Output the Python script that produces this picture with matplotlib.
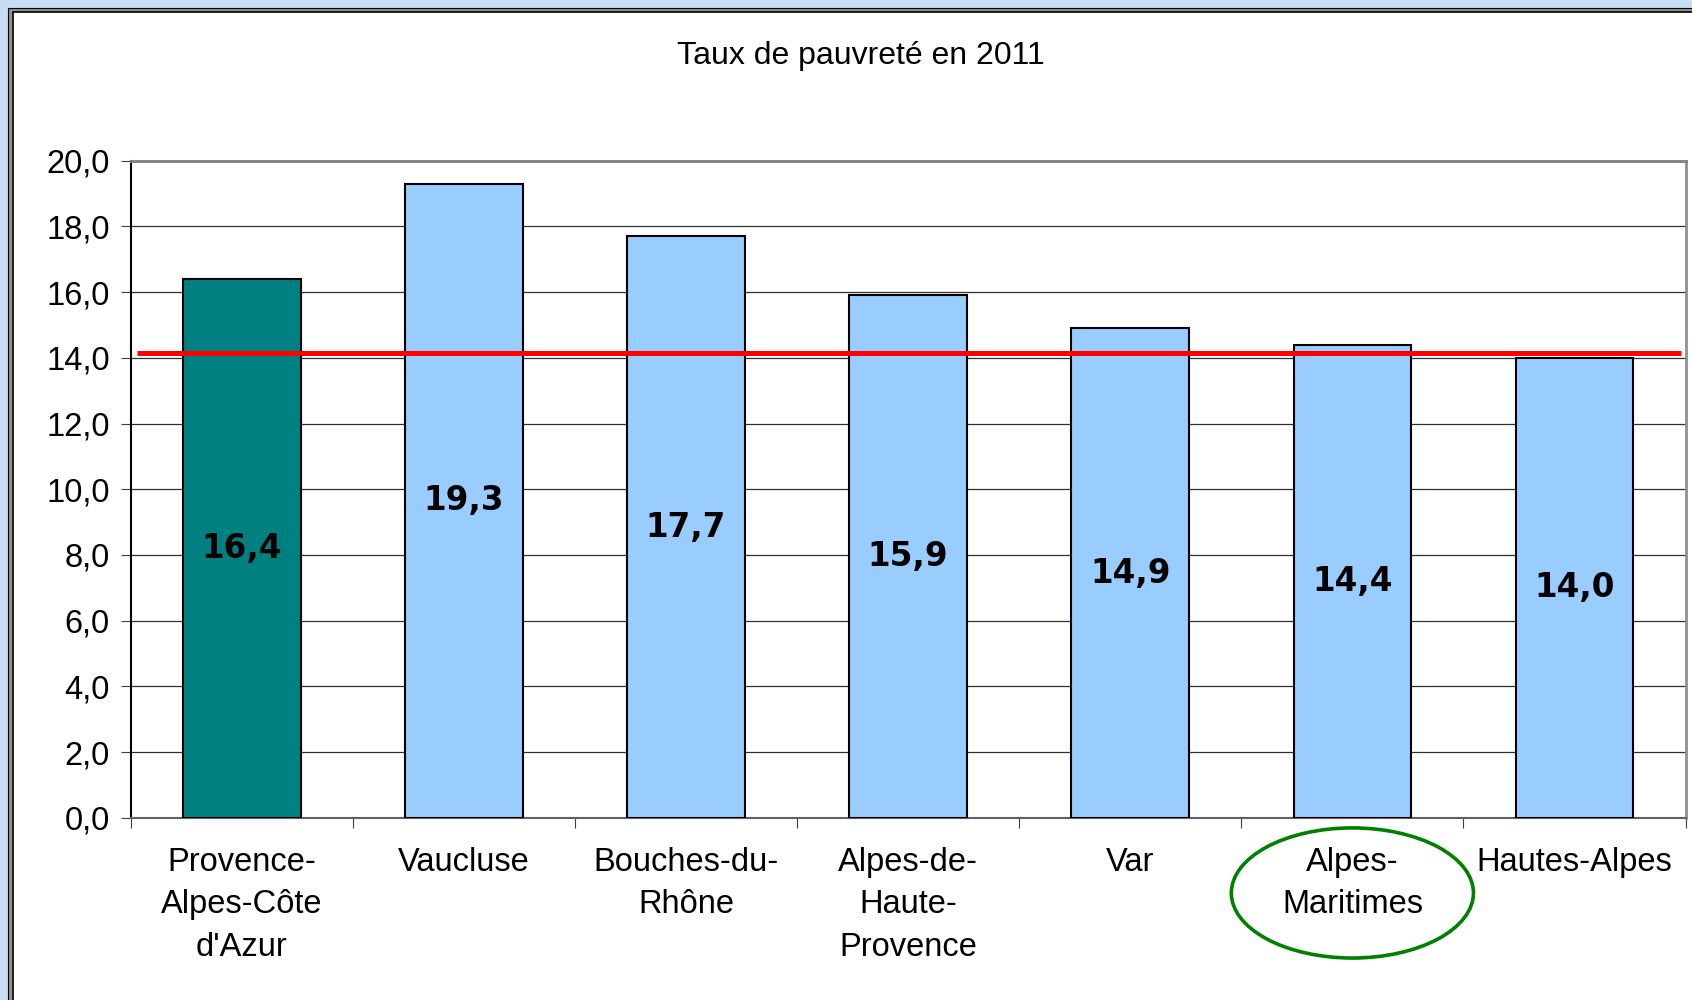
import numpy as np
import matplotlib
matplotlib.use("Agg")
import matplotlib.pyplot as plt
from matplotlib.patches import Rectangle, Ellipse
from matplotlib.transforms import blended_transform_factory

# data
territories = ["Provence-\nAlpes-Côte\nd'Azur", "Vaucluse", "Bouches-du-\nRhône",
               "Alpes-de-\nHaute-\nProvence", "Var", "Alpes-\nMaritimes", "Hautes-Alpes"]
poverty_rate = [16.4, 19.3, 17.7, 15.9, 14.9, 14.4, 14.0]
value_labels = ["16,4", "19,3", "17,7", "15,9", "14,9", "14,4", "14,0"]
reference_rate = 14.15
yticks = [0, 2, 4, 6, 8, 10, 12, 14, 16, 18, 20]
ytick_labels = ["0,0", "2,0", "4,0", "6,0", "8,0", "10,0", "12,0", "14,0", "16,0", "18,0", "20,0"]
highlight = 5  # Alpes-Maritimes, circled

fig = plt.figure(figsize=(16.92, 10), dpi=100)
fig.patch.set_facecolor("#c6dcf2")

# chart frame (double border, open on the right/bottom like the screenshot)
fig.patches.append(Rectangle((8 / 1692, -0.1), 1.2, (1000 - 8) / 1000 + 0.1,
                             transform=fig.transFigure, facecolor="#909090",
                             edgecolor="black", lw=0.8, zorder=-10))
fig.patches.append(Rectangle((13 / 1692, -0.1), 1.2, (1000 - 12) / 1000 + 0.1,
                             transform=fig.transFigure, facecolor="white",
                             edgecolor="black", lw=1.2, zorder=-9))

ax = fig.add_axes([130.6 / 1692, 182.2 / 1000, 1555 / 1692, 657.1 / 1000])
ax.set_facecolor("white")

x = np.arange(len(territories))
colors = ["#008080"] + ["#99ccff"] * (len(territories) - 1)
ax.bar(x, poverty_rate, width=0.53, color=colors, edgecolor="black", linewidth=1.5, zorder=3)

for xi, v, lab in zip(x, poverty_rate, value_labels):
    ax.text(xi, v / 2, lab, ha="center", va="center", fontsize=23.5,
            fontweight="bold", family="DejaVu Sans", zorder=5)

ax.hlines(reference_rate, -0.47, 6.48, color="#ff0000", lw=3.6, zorder=4)

ax.set_xlim(-0.5, 6.5)
ax.set_ylim(0, 20)
ax.set_yticks(yticks)
ax.set_yticklabels(ytick_labels, family="Liberation Sans", fontsize=23.5)
ax.yaxis.grid(True, color="#303030", lw=0.9, zorder=0)
ax.set_axisbelow(True)

ax.set_xticks(np.arange(-0.5, 7, 1))
ax.set_xticklabels([])
ax.set_xticks(x, territories, minor=True)
ax.tick_params(axis="x", which="minor", length=0, pad=21)
ax.tick_params(axis="x", which="major", length=7, direction="out", color="#404040")
ax.tick_params(axis="y", length=7, direction="out", color="#404040", pad=8)
for t in ax.get_xticklabels(minor=True):
    t.set_family("Liberation Sans")
    t.set_fontsize(23.5)
    t.set_linespacing(1.47)

ax.spines["left"].set_color("black")
ax.spines["left"].set_linewidth(1.5)
ax.spines["bottom"].set_color("#606060")
ax.spines["bottom"].set_linewidth(1.5)
ax.spines["top"].set_color("#808080")
ax.spines["top"].set_linewidth(2)
ax.spines["right"].set_color("#909090")
ax.spines["right"].set_linewidth(2)

# green circle around Alpes-Maritimes
trans = blended_transform_factory(ax.transData, ax.transAxes)
ax.add_patch(Ellipse((highlight, -0.1144), 1.09, 0.198, transform=trans,
                     fill=False, edgecolor="#008000", lw=2.6, clip_on=False, zorder=6))

fig.text(861 / 1692, 1 - 56 / 1000, "Taux de pauvreté en 2011", ha="center", va="center",
         family="Liberation Sans", fontsize=23)

fig.savefig("out.png", dpi=100, facecolor=fig.get_facecolor())
